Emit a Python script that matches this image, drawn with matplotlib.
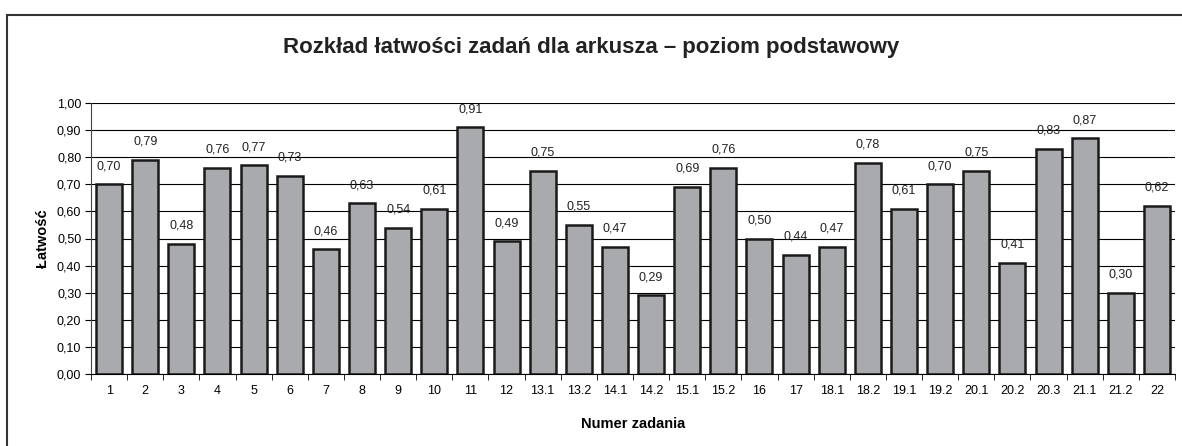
import matplotlib.pyplot as plt
from matplotlib.lines import Line2D

plt.rcParams['font.family'] = ['Liberation Sans', 'DejaVu Sans']

zadania = ['1', '2', '3', '4', '5', '6', '7', '8', '9', '10', '11', '12',
           '13.1', '13.2', '14.1', '14.2', '15.1', '15.2', '16', '17',
           '18.1', '18.2', '19.1', '19.2', '20.1', '20.2', '20.3', '21.1',
           '21.2', '22']
latwosc = [0.70, 0.79, 0.48, 0.76, 0.77, 0.73, 0.46, 0.63, 0.54, 0.61,
           0.91, 0.49, 0.75, 0.55, 0.47, 0.29, 0.69, 0.76, 0.50, 0.44,
           0.47, 0.78, 0.61, 0.70, 0.75, 0.41, 0.83, 0.87, 0.30, 0.62]
y_ticks = [0.0, 0.1, 0.2, 0.3, 0.4, 0.5, 0.6, 0.7, 0.8, 0.9, 1.0]

fig = plt.figure(figsize=(11.82, 4.46), dpi=100)
ax = fig.add_axes([91 / 1182, 1 - 374 / 446, (1175 - 91) / 1182, (374 - 103) / 446])

# frame around the chart (top and left only, as in the source)
fig.add_artist(Line2D([7 / 1182, 7 / 1182], [0, 1 - 15 / 446], color='#333333', lw=1.5))
fig.add_artist(Line2D([7 / 1182, 1], [1 - 15 / 446, 1 - 15 / 446], color='#333333', lw=1.5))

x = range(len(zadania))
ax.set_axisbelow(True)
ax.yaxis.grid(True, color='black', lw=0.8)
ax.bar(x, latwosc, width=0.72, color='#A9AAAD', edgecolor='#1a1a1a', linewidth=1.8)

for i, v in zip(x, latwosc):
    ax.text(i, v + 0.045, f'{v:.2f}'.replace('.', ','), ha='center', va='bottom', fontsize=9, color='#222222')

ax.set_xlim(-0.5, len(zadania) - 0.5)
ax.set_ylim(0, 1.0)
ax.set_yticks(y_ticks)
ax.set_yticklabels([f'{t:.2f}'.replace('.', ',') for t in y_ticks], fontsize=9)
ax.set_xticks(list(x))
ax.set_xticklabels(zadania, fontsize=9)
ax.tick_params(axis='x', length=0, pad=8)
ax.set_xticks([i - 0.5 for i in range(len(zadania) + 1)], minor=True)
ax.tick_params(axis='x', which='minor', length=4, direction='out')
ax.tick_params(axis='y', length=4, direction='out', pad=3)

for s in ['top', 'right']:
    ax.spines[s].set_visible(False)
ax.spines['left'].set_color('#444444')
ax.spines['bottom'].set_color('black')

ax.set_xlabel('Numer zadania', fontsize=10.5, fontweight='bold', labelpad=14)
ax.set_ylabel('Łatwość', fontsize=10.5, fontweight='bold', labelpad=5)
fig.text(0.5, 1 - 47 / 446, 'Rozkład łatwości zadań dla arkusza – poziom podstawowy',
         ha='center', va='center', fontsize=16, fontweight='bold', color='#222222')

fig.savefig('out.png', dpi=100)
